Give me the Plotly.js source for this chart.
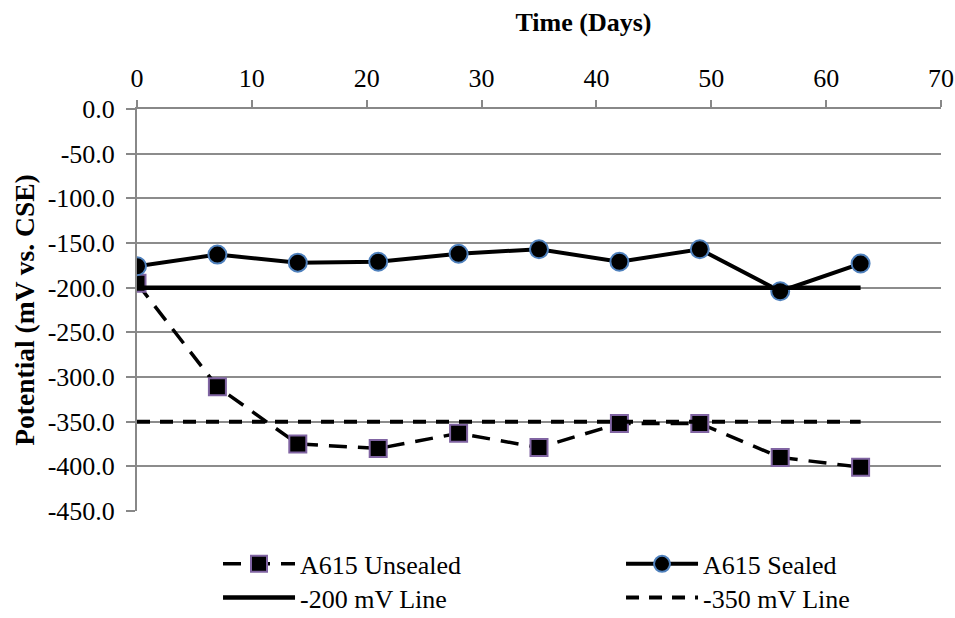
<!DOCTYPE html>
<html>
<head>
<meta charset="utf-8">
<script src="https://cdn.plot.ly/plotly-3.0.1.min.js"></script>
<style>html,body{margin:0;padding:0;background:#fff;}#chart{width:955px;height:618px;}</style>
</head>
<body>
<div id="chart"></div>
<script>
// Data
const days = [0, 7, 14, 21, 28, 35, 42, 49, 56, 63];
const a615Unsealed = [-195, -311, -375, -380, -363, -379, -352, -352, -390, -401];
const a615Sealed = [-176, -163, -172, -171, -162, -157, -171, -157, -204, -173];
const line200 = [-200, -200, -200, -200, -200, -200, -200, -200, -200, -200];
const line350 = [-350, -350, -350, -350, -350, -350, -350, -350, -350, -350];
const seriesNames = ["A615 Unsealed", "A615 Sealed", "-200 mV Line", "-350 mV Line"];
const xTickVals = [0, 10, 20, 30, 40, 50, 60, 70];
const yTickVals = [0, -50, -100, -150, -200, -250, -300, -350, -400, -450];
const yTickText = yTickVals.map(v => v.toFixed(1));
const xTickText = xTickVals.map(v => String(v));

const FONT = "Liberation Serif";

const traces = [
  {x: days, y: a615Unsealed, name: seriesNames[0], mode: "lines+markers", legend: "legend",
    line: {color: "#000", width: 3.5, dash: "18px,11px"},
    marker: {symbol: "square", size: 17, color: "#000", line: {color: "#8064A2", width: 2}}},
  {x: days, y: a615Sealed, name: seriesNames[1], mode: "lines+markers", legend: "legend",
    line: {color: "#000", width: 4},
    marker: {symbol: "circle", size: 18, color: "#000", line: {color: "#4F81BD", width: 2}}},
  {x: days, y: line200, name: seriesNames[2], mode: "lines", legend: "legend2",
    line: {color: "#000", width: 4.5}},
  {x: days, y: line350, name: seriesNames[3], mode: "lines", legend: "legend2",
    line: {color: "#000", width: 4, dash: "13px,10px"}}
];

const legendCommon = {
  orientation: "h", xanchor: "left", yanchor: "middle", xref: "container", yref: "container",
  entrywidth: 316, entrywidthmode: "pixels", itemwidth: 72,
  font: {family: FONT, size: 26, color: "#000"},
  bgcolor: "rgba(0,0,0,0)", traceorder: "normal"
};

const layout = {
  width: 955, height: 618,
  paper_bgcolor: "#fff", plot_bgcolor: "#fff",
  margin: {l: 137, r: 14, t: 109, b: 107},
  font: {family: FONT, color: "#000", size: 26},
  showlegend: true,
  title: {text: "<b>Time (Days)</b>", font: {family: FONT, size: 26, color: "#000"}, x: 0.611, xanchor: "center", xref: "container", y: 0.964, yanchor: "middle", yref: "container"},
  legend: Object.assign({}, legendCommon, {x: 0.2283, y: 0.0875}),
  legend2: Object.assign({}, legendCommon, {x: 0.2283, y: 0.033}),
  xaxis: {
    side: "top", range: [0, 70], tickvals: xTickVals, ticktext: xTickText,
    showline: true, linecolor: "#888", linewidth: 2,
    ticks: "outside", ticklen: 7, tickwidth: 2, tickcolor: "#888",
    showgrid: false, zeroline: false, ticklabelstandoff: 3,
    tickfont: {family: FONT, size: 26, color: "#000"},
    fixedrange: true
  },
  yaxis: {
    range: [-450, 0], tickvals: yTickVals, ticktext: yTickText,
    showline: true, linecolor: "#888", linewidth: 2,
    ticks: "outside", ticklen: 9, tickwidth: 2, tickcolor: "#888",
    showgrid: true, gridcolor: "#8c8c8c", gridwidth: 2, zeroline: false,
    ticklabelstandoff: 6,
    tickfont: {family: FONT, size: 26, color: "#000"},
    title: {text: "<b>Potential (mV vs. CSE)</b>", font: {family: FONT, size: 27.5, color: "#000"}, standoff: 5},
    fixedrange: true
  }
};

Plotly.newPlot("chart", traces, layout, {displayModeBar: false, staticPlot: true});
</script>
</body>
</html>
